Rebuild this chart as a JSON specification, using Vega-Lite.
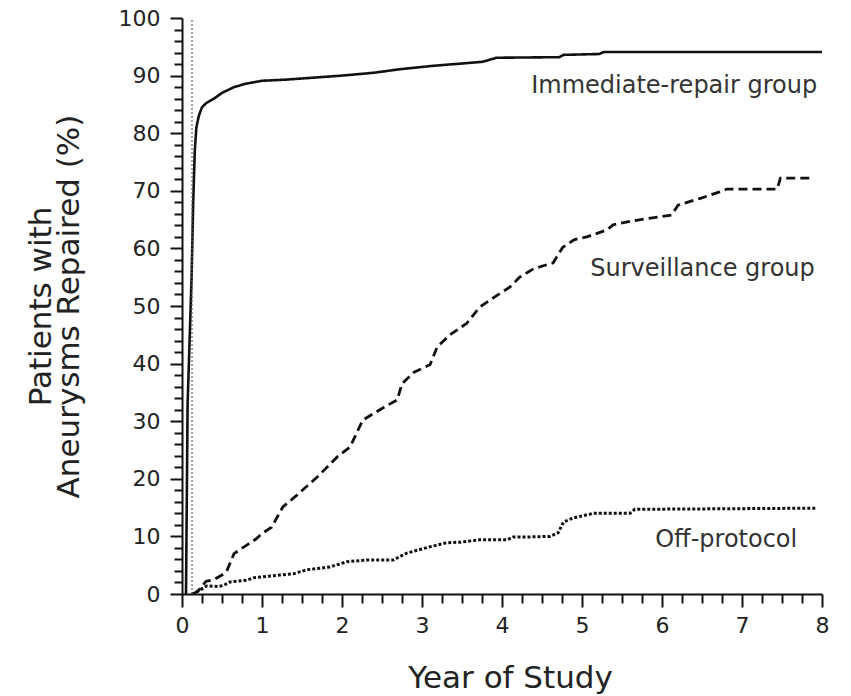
{
  "$schema": "https://vega.github.io/schema/vega-lite/v6.json",
  "width": 640,
  "height": 576,
  "autosize": {"type": "none"},
  "padding": {"left": 182, "top": 18, "right": 29, "bottom": 102},
  "background": "white",
  "config": {
    "view": {"stroke": null},
    "axis": {
      "domainColor": "#111",
      "domainWidth": 2,
      "tickColor": "#111",
      "tickWidth": 2,
      "grid": false,
      "labelFont": "DejaVu Sans",
      "labelFontSize": 22,
      "labelColor": "#222",
      "labelOverlap": false,
      "titleFont": "DejaVu Sans",
      "titleFontSize": 31,
      "titleFontWeight": "normal",
      "titleColor": "#222"
    }
  },
  "datasets": {
    "curves": [
      {"group": "Immediate", "year": 0.05, "pct": 0},
      {"group": "Immediate", "year": 0.07, "pct": 33},
      {"group": "Immediate", "year": 0.12, "pct": 55},
      {"group": "Immediate", "year": 0.14, "pct": 68},
      {"group": "Immediate", "year": 0.16, "pct": 77},
      {"group": "Immediate", "year": 0.18, "pct": 81},
      {"group": "Immediate", "year": 0.21, "pct": 83},
      {"group": "Immediate", "year": 0.25, "pct": 84.5},
      {"group": "Immediate", "year": 0.3, "pct": 85.2},
      {"group": "Immediate", "year": 0.4, "pct": 86},
      {"group": "Immediate", "year": 0.5, "pct": 87},
      {"group": "Immediate", "year": 0.65, "pct": 88},
      {"group": "Immediate", "year": 0.8, "pct": 88.6},
      {"group": "Immediate", "year": 1.0, "pct": 89.1},
      {"group": "Immediate", "year": 1.3, "pct": 89.3},
      {"group": "Immediate", "year": 1.6, "pct": 89.6},
      {"group": "Immediate", "year": 2.0, "pct": 90.0},
      {"group": "Immediate", "year": 2.4, "pct": 90.5},
      {"group": "Immediate", "year": 2.72, "pct": 91.1},
      {"group": "Immediate", "year": 3.14, "pct": 91.7},
      {"group": "Immediate", "year": 3.5, "pct": 92.1},
      {"group": "Immediate", "year": 3.76, "pct": 92.4},
      {"group": "Immediate", "year": 3.93, "pct": 93.1},
      {"group": "Immediate", "year": 4.72, "pct": 93.2},
      {"group": "Immediate", "year": 4.77, "pct": 93.6},
      {"group": "Immediate", "year": 5.22, "pct": 93.75},
      {"group": "Immediate", "year": 5.27, "pct": 94.1},
      {"group": "Immediate", "year": 8.0, "pct": 94.1},
      {"group": "Surveillance", "year": 0.14, "pct": 0},
      {"group": "Surveillance", "year": 0.2, "pct": 0.5},
      {"group": "Surveillance", "year": 0.3, "pct": 2.2},
      {"group": "Surveillance", "year": 0.4, "pct": 2.5},
      {"group": "Surveillance", "year": 0.5, "pct": 3.3},
      {"group": "Surveillance", "year": 0.56, "pct": 4},
      {"group": "Surveillance", "year": 0.65, "pct": 7},
      {"group": "Surveillance", "year": 0.81, "pct": 8.5},
      {"group": "Surveillance", "year": 0.92, "pct": 9.5},
      {"group": "Surveillance", "year": 1.01, "pct": 10.6},
      {"group": "Surveillance", "year": 1.12, "pct": 11.6},
      {"group": "Surveillance", "year": 1.26, "pct": 15.1},
      {"group": "Surveillance", "year": 1.44, "pct": 17.2},
      {"group": "Surveillance", "year": 1.69, "pct": 20.3},
      {"group": "Surveillance", "year": 1.94, "pct": 23.8},
      {"group": "Surveillance", "year": 2.1, "pct": 25.5},
      {"group": "Surveillance", "year": 2.26, "pct": 30.2},
      {"group": "Surveillance", "year": 2.51, "pct": 32.3},
      {"group": "Surveillance", "year": 2.69, "pct": 33.7},
      {"group": "Surveillance", "year": 2.75, "pct": 36.5},
      {"group": "Surveillance", "year": 2.9, "pct": 38.5},
      {"group": "Surveillance", "year": 3.1, "pct": 39.8},
      {"group": "Surveillance", "year": 3.19, "pct": 42.9},
      {"group": "Surveillance", "year": 3.35, "pct": 45},
      {"group": "Surveillance", "year": 3.56, "pct": 47},
      {"group": "Surveillance", "year": 3.72, "pct": 49.8},
      {"group": "Surveillance", "year": 3.9, "pct": 51.5},
      {"group": "Surveillance", "year": 4.1, "pct": 53.3},
      {"group": "Surveillance", "year": 4.22, "pct": 55},
      {"group": "Surveillance", "year": 4.4, "pct": 56.5},
      {"group": "Surveillance", "year": 4.64, "pct": 57.5},
      {"group": "Surveillance", "year": 4.76, "pct": 60.2},
      {"group": "Surveillance", "year": 4.9, "pct": 61.5},
      {"group": "Surveillance", "year": 5.06, "pct": 62},
      {"group": "Surveillance", "year": 5.31, "pct": 63.2},
      {"group": "Surveillance", "year": 5.39, "pct": 64.1},
      {"group": "Surveillance", "year": 5.64, "pct": 64.8},
      {"group": "Surveillance", "year": 5.98, "pct": 65.5},
      {"group": "Surveillance", "year": 6.12, "pct": 65.8},
      {"group": "Surveillance", "year": 6.2, "pct": 67.5},
      {"group": "Surveillance", "year": 6.48, "pct": 68.7},
      {"group": "Surveillance", "year": 6.72, "pct": 69.8},
      {"group": "Surveillance", "year": 6.81, "pct": 70.3},
      {"group": "Surveillance", "year": 7.44, "pct": 70.3},
      {"group": "Surveillance", "year": 7.48, "pct": 72.2},
      {"group": "Surveillance", "year": 7.89, "pct": 72.2},
      {"group": "Off", "year": 0.12, "pct": 0},
      {"group": "Off", "year": 0.2, "pct": 0.5},
      {"group": "Off", "year": 0.31, "pct": 1.4},
      {"group": "Off", "year": 0.45, "pct": 1.3},
      {"group": "Off", "year": 0.52, "pct": 1.5},
      {"group": "Off", "year": 0.6, "pct": 2.1},
      {"group": "Off", "year": 0.81, "pct": 2.4},
      {"group": "Off", "year": 0.89, "pct": 2.8},
      {"group": "Off", "year": 1.22, "pct": 3.3},
      {"group": "Off", "year": 1.39, "pct": 3.5},
      {"group": "Off", "year": 1.56, "pct": 4.2},
      {"group": "Off", "year": 1.85, "pct": 4.7},
      {"group": "Off", "year": 2.06, "pct": 5.6},
      {"group": "Off", "year": 2.31, "pct": 5.9},
      {"group": "Off", "year": 2.64, "pct": 5.9},
      {"group": "Off", "year": 2.81, "pct": 7.1},
      {"group": "Off", "year": 3.1, "pct": 8.2},
      {"group": "Off", "year": 3.31, "pct": 8.9},
      {"group": "Off", "year": 3.48, "pct": 9.0},
      {"group": "Off", "year": 3.72, "pct": 9.4},
      {"group": "Off", "year": 4.06, "pct": 9.4},
      {"group": "Off", "year": 4.14, "pct": 9.9},
      {"group": "Off", "year": 4.31, "pct": 9.9},
      {"group": "Off", "year": 4.6, "pct": 10},
      {"group": "Off", "year": 4.7, "pct": 10.6},
      {"group": "Off", "year": 4.77, "pct": 12.5},
      {"group": "Off", "year": 4.89, "pct": 13.2},
      {"group": "Off", "year": 5.14, "pct": 14},
      {"group": "Off", "year": 5.6, "pct": 14},
      {"group": "Off", "year": 5.66, "pct": 14.7},
      {"group": "Off", "year": 7.93, "pct": 14.9}
    ],
    "labels": [
      {"label": "Immediate-repair group", "year": 7.94, "pct": 87.0},
      {"label": "Surveillance group", "year": 7.91, "pct": 55.2},
      {"label": "Off-protocol", "year": 7.69, "pct": 8.2}
    ],
    "ref": [
      {"year": 0.125, "pct": 0},
      {"year": 0.125, "pct": 100}
    ]
  },
  "encoding": {
    "x": {
      "field": "year",
      "type": "quantitative",
      "scale": {"domain": [0, 8], "nice": false},
      "axis": {
        "title": "Year of Study",
        "values": [0, 0.25, 0.5, 0.75, 1, 1.25, 1.5, 1.75, 2, 2.25, 2.5, 2.75, 3, 3.25, 3.5, 3.75, 4, 4.25, 4.5, 4.75, 5, 5.25, 5.5, 5.75, 6, 6.25, 6.5, 6.75, 7, 7.25, 7.5, 7.75, 8],
        "labelExpr": "datum.value % 1 === 0 ? format(datum.value, 'd') : ''",
        "tickSize": {"condition": {"test": "datum.value % 1 === 0", "value": 13}, "value": 9},
        "labelPadding": 8,
        "labelFlush": false,
        "titleBaseline": "alphabetic",
        "titleY": 93,
        "titleX": 328
      }
    },
    "y": {
      "field": "pct",
      "type": "quantitative",
      "scale": {"domain": [0, 100], "nice": false},
      "axis": {
        "title": ["Patients with", "Aneurysms Repaired (%)"],
        "values": [0, 2, 4, 6, 8, 10, 12, 14, 16, 18, 20, 22, 24, 26, 28, 30, 32, 34, 36, 38, 40, 42, 44, 46, 48, 50, 52, 54, 56, 58, 60, 62, 64, 66, 68, 70, 72, 74, 76, 78, 80, 82, 84, 86, 88, 90, 92, 94, 96, 98, 100],
        "labelExpr": "datum.value % 10 === 0 ? format(datum.value, 'd') : ''",
        "tickSize": {"condition": {"test": "datum.value % 10 === 0", "value": 12}, "value": 8},
        "labelPadding": 10,
        "labelFlush": false,
        "titleBaseline": "alphabetic",
        "titleLineHeight": 28,
        "titleX": -132,
        "titleY": 288
      }
    }
  },
  "layer": [
    {
      "data": {"name": "curves"},
      "mark": {"type": "line", "color": "#111", "strokeCap": "butt", "interpolate": "linear"},
      "encoding": {
        "detail": {"field": "group"},
        "strokeDash": {
          "field": "group",
          "type": "nominal",
          "scale": {"domain": ["Immediate", "Surveillance", "Off"], "range": [[1, 0], [9, 5], [3, 2]]},
          "legend": null
        },
        "strokeWidth": {
          "field": "group",
          "type": "nominal",
          "scale": {"domain": ["Immediate", "Surveillance", "Off"], "range": [2.6, 3, 2.4]},
          "legend": null
        }
      }
    },
    {
      "data": {"name": "ref"},
      "mark": {"type": "line", "stroke": "#666", "strokeWidth": 1.2, "strokeDash": [2, 2]},
      "encoding": {}
    },
    {
      "data": {"name": "labels"},
      "mark": {"type": "text", "align": "right", "baseline": "alphabetic", "font": "DejaVu Sans", "fontSize": 24, "color": "#333"},
      "encoding": {
        "text": {"field": "label"}
      }
    }
  ]
}
